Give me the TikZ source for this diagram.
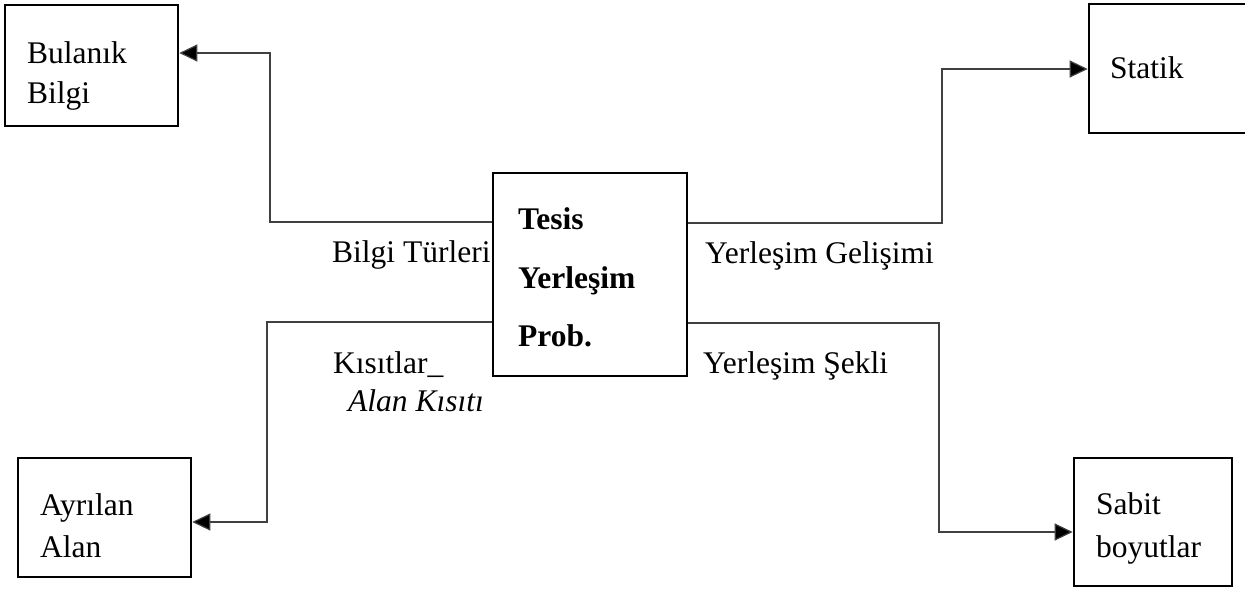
\documentclass[tikz,border=0pt]{standalone}
\usepackage{fontspec}
\setmainfont{Liberation Serif}
\usetikzlibrary{arrows.meta}
\begin{document}
\begin{tikzpicture}[x=1pt,y=-1pt,
  box/.style={draw=black,line width=2.6pt,rectangle,inner sep=0pt,fill=white},
  conn/.style={draw=black!75,line width=1.2pt,-{Triangle[length=18pt,width=17pt,fill=black]}},
  lbl/.style={anchor=base west,inner sep=0pt,font=\fontsize{31.5}{38}\selectfont},
  blbl/.style={lbl,font=\fontsize{31.5}{38}\selectfont\bfseries},
  ilbl/.style={lbl,font=\fontsize{31.5}{38}\selectfont\itshape}]
\useasboundingbox (0,0) rectangle (1245,590);
\fill[white] (0,0) rectangle (1245,590);
% boxes
\node[box,minimum width=173pt,minimum height=121pt] (bul) at (91.5,65.5) {};
\node[box,minimum width=163pt,minimum height=129pt] (sta) at (1170.5,68.5) {};
\node[box,minimum width=194pt,minimum height=203pt] (ctr) at (590,274.5) {};
\node[box,minimum width=173pt,minimum height=119pt] (ayr) at (104.5,517.5) {};
\node[box,minimum width=158pt,minimum height=128pt] (sab) at (1153,522) {};
% elbow coordinates
\coordinate (a1) at (270,222);
\coordinate (a2) at (270,53);
\coordinate (b1) at (942,223);
\coordinate (b2) at (942,69);
\coordinate (c1) at (267,322);
\coordinate (c2) at (267,522);
\coordinate (d1) at (939,323);
\coordinate (d2) at (939,532);
% connectors
\draw[conn] (ctr.west |- a1) -- (a1) -- (a2) -- (bul.east |- a2);
\draw[conn] (ctr.east |- b1) -- (b1) -- (b2) -- (sta.west |- b2);
\draw[conn] (ctr.west |- c1) -- (c1) -- (c2) -- (ayr.east |- c2);
\draw[conn] (ctr.east |- d1) -- (d1) -- (d2) -- (sab.west |- d2);
% texts
\node[lbl] (t1) at (27,63) {Bulanık};
\node[lbl] (t2) at (27,103) {Bilgi};
\node[lbl] (t3) at (1110,78) {Statik};
\node[blbl] (t4) at (518,229) {Tesis};
\node[blbl] (t5) at (518,288) {Yerleşim};
\node[blbl] (t6) at (518,346) {Prob.};
\node[lbl] (t7) at (332,262) {Bilgi Türleri};
\node[lbl] (t8) at (333,373) {Kısıtlar\_};
\node[ilbl] (t9) at (348,411) {Alan Kısıtı};
\node[lbl] (t10) at (705,263) {Yerleşim Gelişimi};
\node[lbl] (t11) at (703,373) {Yerleşim Şekli};
\node[lbl] (t12) at (40,515) {Ayrılan};
\node[lbl] (t13) at (40,557) {Alan};
\node[lbl] (t14) at (1096,514) {Sabit};
\node[lbl] (t15) at (1096,557) {boyutlar};
\end{tikzpicture}
\end{document}
